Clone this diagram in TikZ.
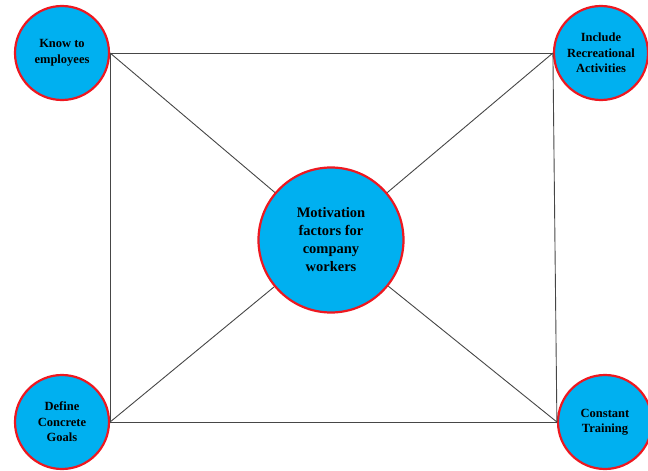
\documentclass[tikz,border=0pt]{standalone}
\usepackage{fontspec}
\setmainfont{Liberation Serif}
\usepackage{xcolor}
\usetikzlibrary{arrows.meta, positioning}
\definecolor{factorblue}{RGB}{0,176,240}
\definecolor{factorred}{RGB}{238,24,32}
\definecolor{linkgray}{RGB}{70,70,70}

\begin{document}
\begin{tikzpicture}[
  x=1pt, y=-1pt,
  factor/.style={circle, draw=factorred, fill=factorblue, line width=2.2pt, inner sep=0pt,
    minimum size=94pt, align=center, font=\bfseries\fontsize{12.5}{15.5}\selectfont},
  hub/.style={factor, minimum size=145pt, font=\bfseries\fontsize{14.5}{18}\selectfont},
  link/.style={draw=linkgray, line width=0.9pt},
  >=Stealth
]
\useasboundingbox (0,0) rectangle (648,471);

\node[hub] (center) at (331,240) {Motivation\\factors for\\company\\workers};
\node[factor] (know) at (62,53) {Know to\\employees};
\node[factor] (recre) at (601,53) {Include\\Recreational\\Activities};
\node[factor] (goals) at (62,422) {Define\\Concrete\\Goals};
\node[factor] (train) at (605,422) {Constant\\Training};

\draw[link] (know.east) -- (recre.west);
\draw[link] (goals.east) -- (train.west);
\draw[link] (know.east) -- (goals.east);
\draw[link] (recre.west) -- (train.west);
\draw[link] (know.east) -- (center);
\draw[link] (recre.west) -- (center);
\draw[link] (goals.east) -- (center);
\draw[link] (train.west) -- (center);
\end{tikzpicture}
\end{document}
